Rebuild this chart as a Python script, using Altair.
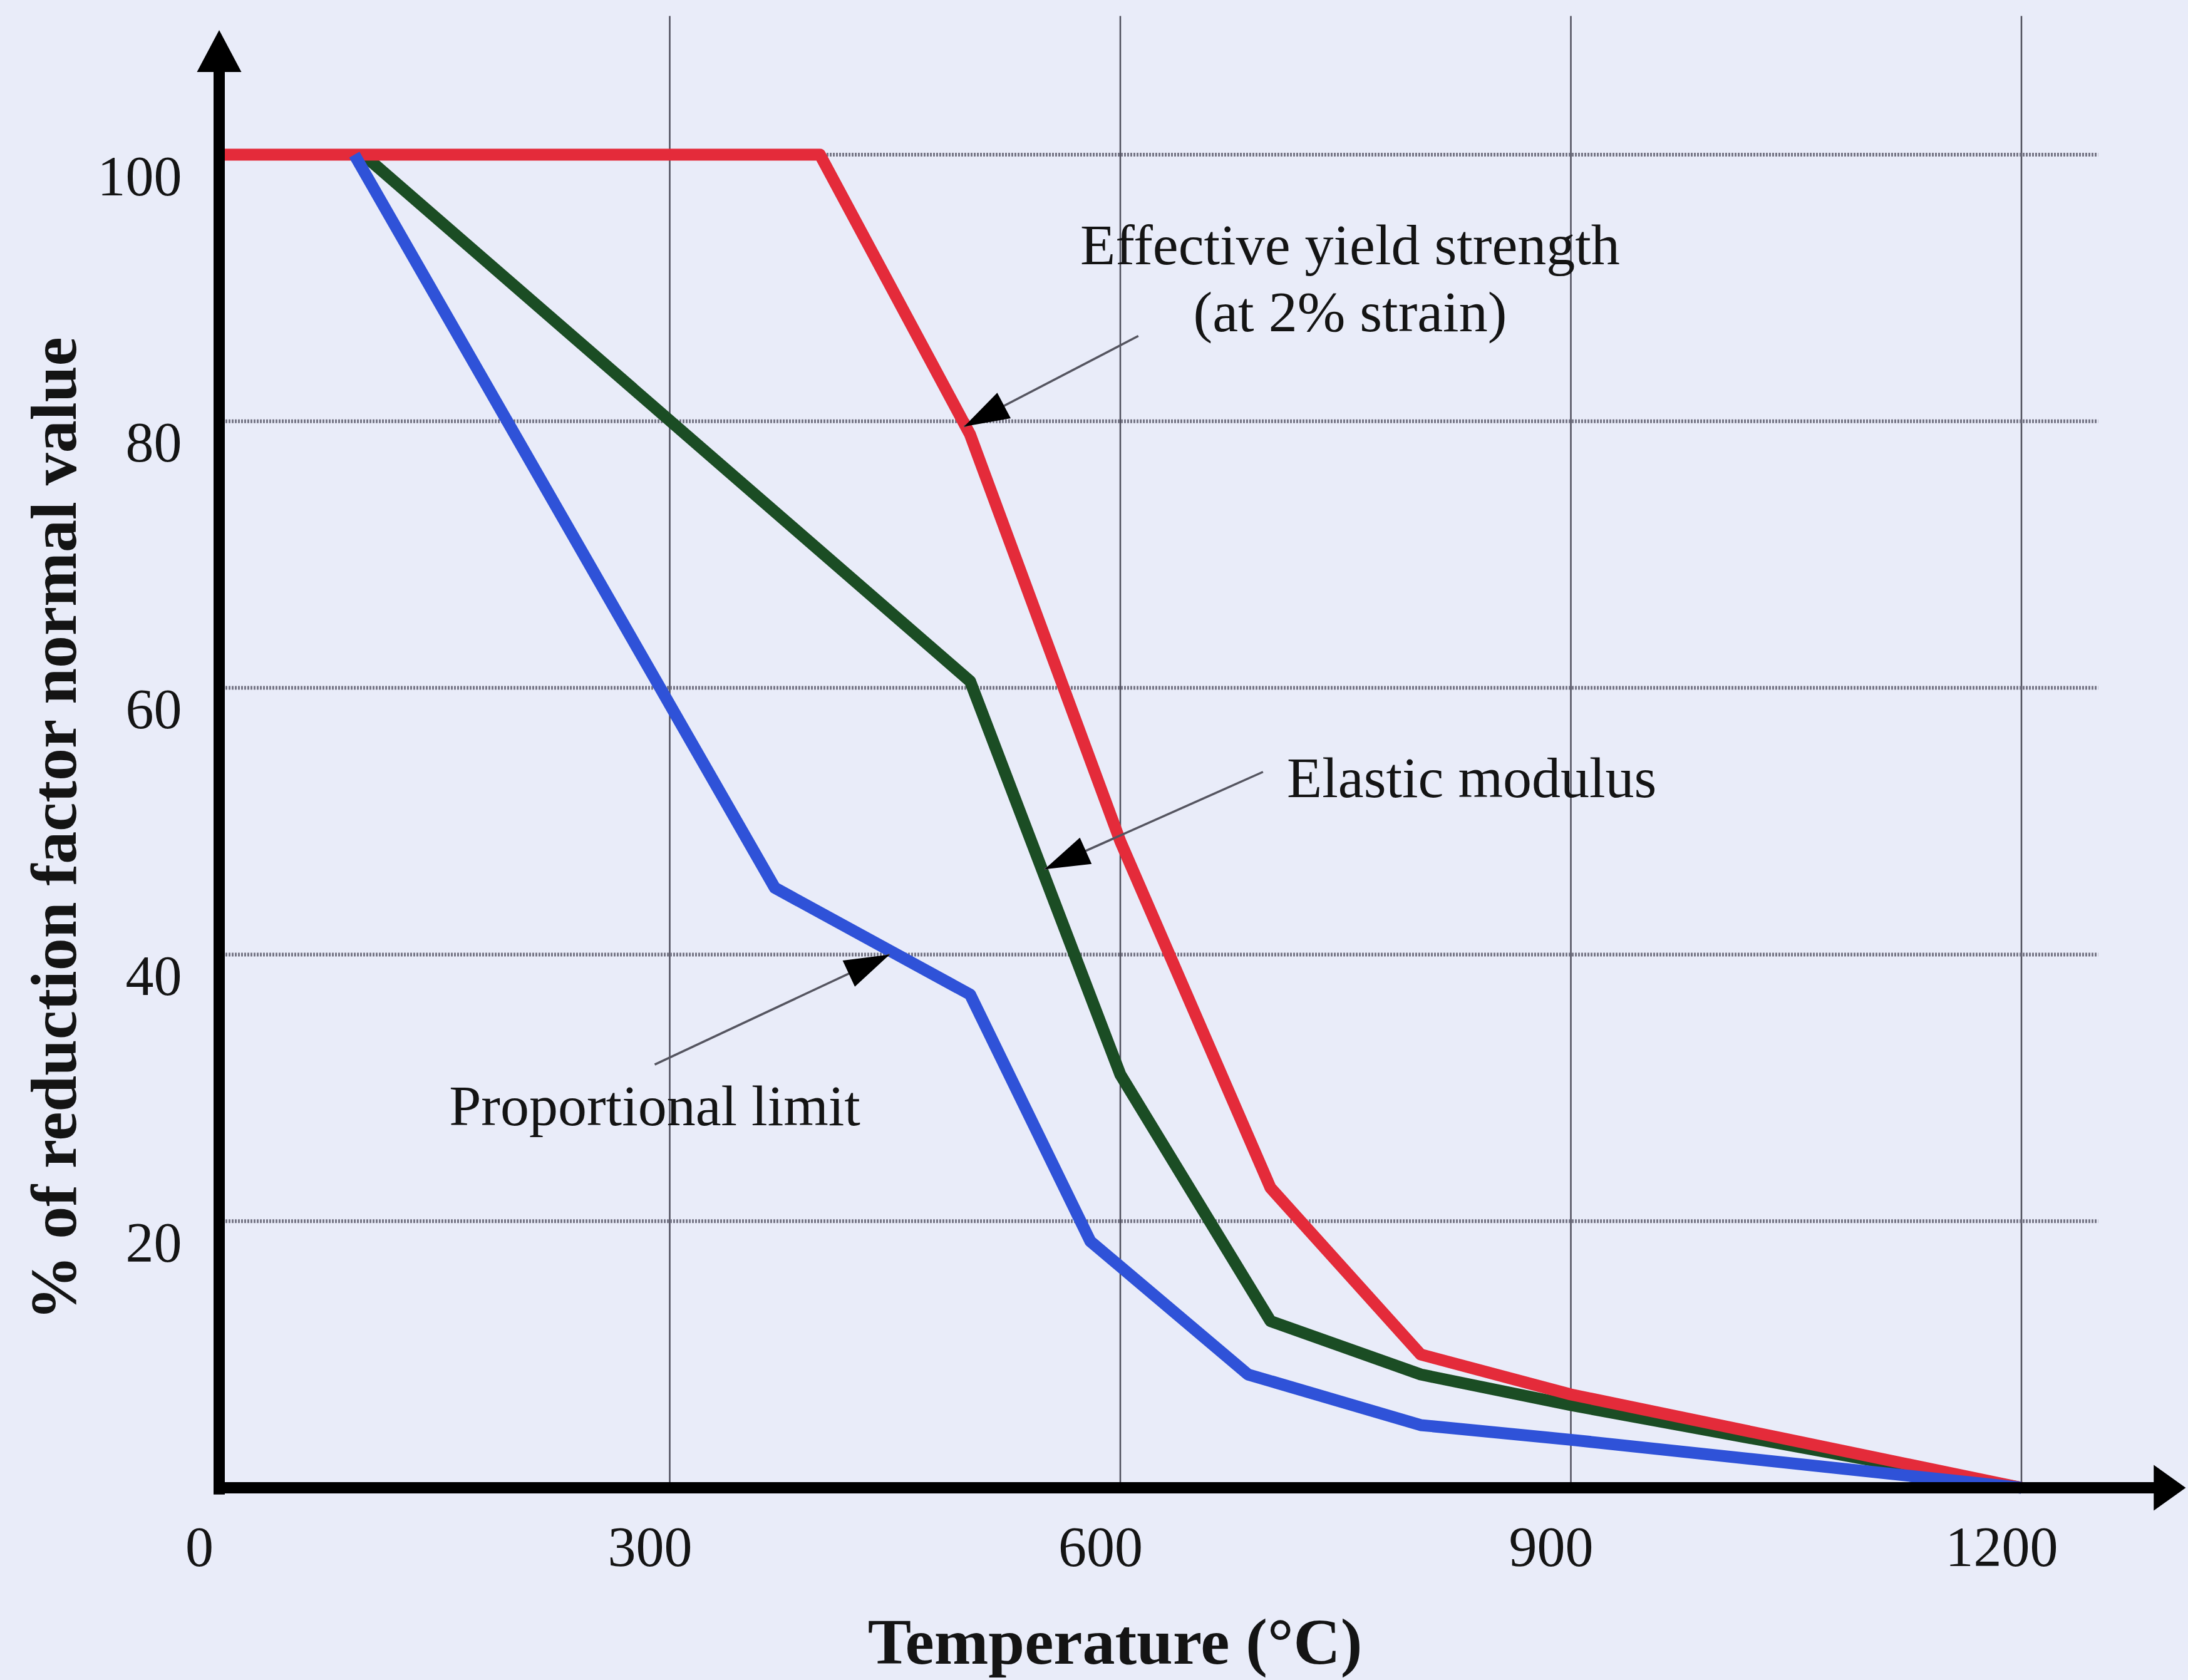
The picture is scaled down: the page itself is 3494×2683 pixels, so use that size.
import altair as alt
import pandas as pd

# ---------------- data ----------------
temp_yield = [0, 400, 500, 600, 700, 800, 900, 1200]
val_yield = [100, 100, 79, 48.5, 22.5, 10, 7, 0]

temp_elastic = [96, 500, 600, 700, 800, 900, 1200]
val_elastic = [100, 60.5, 31, 12.5, 8.5, 6.2, 0]

temp_prop = [90, 370, 500, 580, 685, 800, 900, 1200]
val_prop = [100, 45, 37, 18.5, 8.5, 4.7, 3.6, 0]

x_ticks = [0, 300, 600, 900, 1200]
y_ticks = [20, 40, 60, 80, 100]

# annotation texts (data coordinates)
note_text = ["Effective yield strength", "(at 2% strain)", "Elastic modulus", "Proportional limit"]
note_t = [753, 753, 834, 290]
note_v = [91.8, 86.75, 51.8, 27.2]

# annotation arrows: start -> tip (data coordinates), head angle (deg)
arrow_t0 = [612, 695, 290]
arrow_v0 = [86.4, 53.7, 31.75]
arrow_t1 = [496, 549.6, 446.4]
arrow_v1 = [79.6, 46.4, 40.0]
arrow_ang = [242.2, 245.9, 65.0]

# ---------------- styles ----------------
FONT = "Liberation Serif"
BG = "#e9ecf9"
TXT = "#141414"

xs = alt.Scale(domain=[0, 1200], nice=False, zero=False)
ys = alt.Scale(domain=[0, 100], nice=False, zero=False)

xaxis = alt.Axis(values=x_ticks, format="d", labelFont=FONT, labelFontSize=90,
                 labelColor=TXT, labelPadding=53, labelOffset=-32, labelFlush=False,
                 labelOverlap=False, labelLimit=1000, domain=False, ticks=False, grid=False,
                 title="Temperature (°C)", titleFont=FONT, titleFontSize=104,
                 titleFontWeight="bold", titleColor=TXT, titleX=1430, titleY=280,
                 titleBaseline="alphabetic", titleLimit=3000)
yaxis = alt.Axis(values=y_ticks, format="d", labelFont=FONT, labelFontSize=90,
                 labelColor=TXT, labelPadding=60, labelBaseline="top", labelOffset=-7,
                 labelFlush=False, labelOverlap=False, labelLimit=1000, domain=False,
                 ticks=False, grid=False,
                 title="% of reduction factor normal value", titleFont=FONT,
                 titleFontSize=104, titleFontWeight="bold", titleColor=TXT,
                 titleAngle=270, titleX=-261, titleY=1076, titleBaseline="middle",
                 titleAlign="center", titleLimit=3000)


def X(field):
    return alt.X(f"{field}:Q", scale=xs, axis=xaxis)


def Y(field):
    return alt.Y(f"{field}:Q", scale=ys, axis=yaxis)


# ---------------- layers ----------------
vgrid_df = pd.DataFrame({"T": x_ticks[1:], "v0": [0] * 4, "v1": [110.4] * 4})
vgrid = alt.Chart(vgrid_df).mark_rule(color="#4f4f5c", strokeWidth=2.5).encode(
    x=X("T"), y=Y("v0"), y2="v1:Q",
)

hgrid_df = pd.DataFrame({"V": y_ticks, "t0": [0] * 5, "t1": [1251] * 5})
hgrid = alt.Chart(hgrid_df).mark_rule(color="#767686", strokeWidth=6, strokeDash=[3, 2]).encode(
    x=X("t0"), x2="t1:Q", y=Y("V"),
)


def series(t, v, color):
    df = pd.DataFrame({"T": t, "V": v, "i": list(range(len(t)))})
    return alt.Chart(df).mark_line(color=color, strokeWidth=19, strokeJoin="round").encode(
        x=X("T"), y=Y("V"), order="i:O",
    )


green = series(temp_elastic, val_elastic, "#1b4d24")
red = series(temp_yield, val_yield, "#e42b3a")
blue = series(temp_prop, val_prop, "#2f52d8")

yaxis_line = alt.Chart(pd.DataFrame({"T": [0], "a": [-0.5], "b": [106.5]})).mark_rule(
    color="black", strokeWidth=18).encode(x=X("T"), y=Y("a"), y2="b:Q")
xaxis_line = alt.Chart(pd.DataFrame({"V": [0], "a": [-3.5], "b": [1290]})).mark_rule(
    color="black", strokeWidth=18).encode(y=Y("V"), x=X("a"), x2="b:Q")

yarrow = alt.Chart(pd.DataFrame({"T": [0], "V": [109.35]})).mark_point(
    shape="M0,0L0.53,1L-0.53,1Z", size=17956, filled=True, color="black",
    opacity=1, strokeWidth=0).encode(x=X("T"), y=Y("V"))
xarrow = alt.Chart(pd.DataFrame({"T": [1309.4], "V": [0]})).mark_point(
    shape="M0,0L-0.7,-0.5L-0.7,0.5Z", size=21316, filled=True, color="black",
    opacity=1, strokeWidth=0).encode(x=X("T"), y=Y("V"))

arr_df = pd.DataFrame({"t0": arrow_t0, "v0": arrow_v0, "t1": arrow_t1,
                       "v1": arrow_v1, "ang": arrow_ang})
arr_lines = alt.Chart(arr_df).mark_rule(color="#555560", strokeWidth=3.5).encode(
    x=X("t0"), y=Y("v0"), x2="t1:Q", y2="v1:Q",
)
arr_heads = alt.Chart(arr_df).mark_point(
    shape="M0,0L0.32,1L-0.32,1Z", size=20736, filled=True, color="black",
    opacity=1, strokeWidth=0).encode(
    x=X("t1"), y=Y("v1"), angle=alt.Angle("ang:Q", scale=None),
)

notes = alt.Chart(pd.DataFrame({"T": note_t, "V": note_v, "label": note_text})).mark_text(
    font=FONT, fontSize=92, align="center", baseline="alphabetic", color=TXT).encode(
    x=X("T"), y=Y("V"), text="label:N",
)

chart = alt.layer(
    vgrid, hgrid, green, red, blue, yaxis_line, xaxis_line, yarrow, xarrow,
    arr_lines, arr_heads, notes,
).properties(
    width=2878,
    height=2129,
    autosize=alt.AutoSizeParams(type="none"),
    padding={"left": 350, "top": 247, "right": 266, "bottom": 307},
).configure(background=BG).configure_view(stroke=None, fill=BG)

chart.save("out.html", embed_options={"renderer": "svg", "actions": False})
